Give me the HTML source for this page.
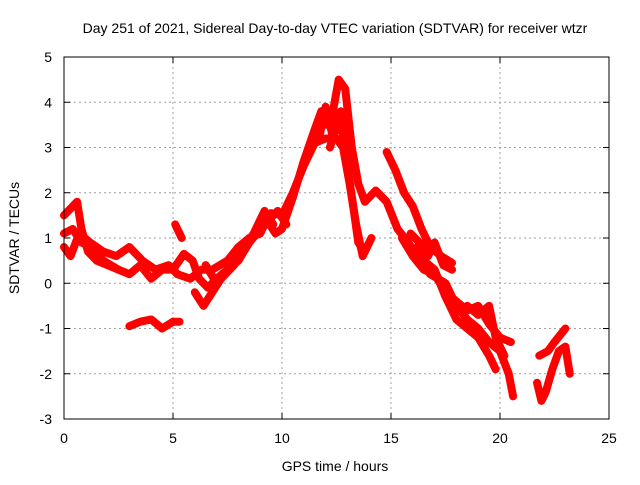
<!DOCTYPE html>
<html><head><meta charset="utf-8"><style>
body{margin:0;background:#fff;font-family:"Liberation Sans",sans-serif}
svg text{font-family:"Liberation Sans",sans-serif;font-size:14px;fill:#000}
</style></head><body>
<svg id="chart" width="640" height="480">
<text x="335" y="33" text-anchor="middle">Day 251 of 2021, Sidereal Day-to-day VTEC variation (SDTVAR) for receiver wtzr</text>
<text x="335" y="471" text-anchor="middle">GPS time / hours</text>
<text transform="translate(19,238) rotate(-90)" text-anchor="middle">SDTVAR / TECUs</text>
<g id="grid"></g><g id="ticks"></g><g id="series"></g>
<rect x="64" y="57" width="545" height="362" fill="none" stroke="#000" stroke-width="1"/>
</svg>
<script>
const xTicks=[0,5,10,15,20,25];
const yTicks=[-3,-2,-1,0,1,2,3,4,5];
const track1=[[0,1.1],[0.4,1.2],[0.8,0.9],[1.3,0.8],[1.8,0.5],[2.5,0.3],[3,0.2],[3.5,0.4],[4,0.1],[4.5,0.3],[5,0.3],[5.5,0.65],[5.9,0.5],[6.2,0.1],[6.6,-0.1],[7,0.1],[7.5,0.3],[8,0.5],[8.5,0.9],[9,1.2],[9.5,1.55],[10,1.5],[10.5,2.0],[11,2.6],[11.5,3.1],[12,3.2],[12.5,3.2],[12.8,3.0],[13.1,2.2],[13.4,1.3],[13.7,0.6],[14,0.9]];
const track2=[[0,0.8],[0.3,0.6],[0.7,1.1],[1.2,0.9],[1.8,0.7],[2.4,0.6],[3,0.8],[3.6,0.5],[4.2,0.3],[4.8,0.4],[5.2,0.2],[5.8,0.1],[6.3,0.3],[6.8,0.3],[7.5,0.5],[8,0.8],[8.5,1.0],[9,1.1],[9.3,1.4],[9.7,1.1],[10,1.2],[10.5,1.9],[11,2.7],[11.5,3.4],[11.8,3.8],[12,3.5],[12.3,3.7],[12.6,4.5],[12.9,4.3],[13.2,3.0],[13.5,2.2],[13.8,1.8],[14.3,2.05],[14.8,1.8],[15.3,1.2],[15.8,0.9],[16.3,0.5],[16.8,0.2],[17.5,0.0],[18,-0.5],[18.5,-0.8],[19,-1.0],[19.5,-1.3],[20,-1.5],[20.4,-2.0],[20.6,-2.5]];
const track3=[[0,1.5],[0.3,1.65],[0.6,1.8],[0.8,1.2],[1.1,0.7],[1.5,0.5],[2,0.4],[2.5,0.3]];
const track4=[[3,-0.95],[3.5,-0.85],[4,-0.8],[4.5,-1.0],[5,-0.85],[5.3,-0.85]];
const track5=[[5.1,1.3],[5.4,1.0]];
const track6=[[6,-0.2],[6.4,-0.5],[6.8,-0.2],[7.2,0.1],[7.8,0.4],[8.5,0.9],[9.2,1.3],[9.8,1.6],[10.2,1.3]];
const track7=[[14.8,2.9],[15.2,2.5],[15.6,2.0],[16,1.7],[16.4,1.2],[16.8,0.8],[17.3,0.6],[17.8,0.45]];
const track8=[[15.5,1.0],[16,0.6],[16.5,0.3],[17,0.2],[17.5,-0.2],[18,-0.4],[18.5,-0.6],[19,-0.5],[19.5,-0.9],[20,-1.2],[20.5,-1.3]];
const track9=[[16.2,0.8],[16.5,0.5],[17,0.3],[17.5,-0.3],[18,-0.8],[18.5,-1.0],[19,-1.2],[19.5,-1.6],[19.8,-1.9]];
const track10=[[18.5,-0.5],[19,-0.7],[19.5,-0.5],[19.8,-1.2],[20.2,-1.6]];
const track11=[[21.8,-1.6],[22.2,-1.5],[22.5,-1.3],[23,-1.0]];
const track12=[[21.7,-2.2],[21.9,-2.6],[22.1,-2.4],[22.4,-1.9],[22.7,-1.5],[23,-1.4],[23.2,-2.0]];
const track13=[[12.2,3.0],[12.5,3.5],[12.8,3.3],[13.5,0.9],[13.8,0.7],[14.1,1.0]];
const track14=[[11.7,3.2],[12.0,3.9],[12.3,3.3],[12.7,3.8],[12.9,3.2]];
const track15=[[15.9,1.1],[16.3,0.9],[16.7,0.6],[17.0,0.9],[17.4,0.4],[17.8,0.3]];
const track16=[[6.5,0.4],[7.0,0.0],[7.4,0.2],[7.8,0.6],[8.2,0.7],[8.7,1.1],[9.2,1.6],[9.6,1.3]];
const tracks=[track1,track2,track3,track4,track5,track6,track7,track8,track9,track10,track11,track12,track13,track14,track15,track16];
const NS="http://www.w3.org/2000/svg";
const X0=64,X1=609,Y0=419,Y1=57;
function xs(v){return X0+(v-0)/(25-0)*(X1-X0);}
function ys(v){return Y0-(v-(-3))/(5-(-3))*(Y0-Y1);}
const grid=document.getElementById('grid'),tk=document.getElementById('ticks'),ser=document.getElementById('series');
function mk(tag,attrs,parent){const e=document.createElementNS(NS,tag);for(const k in attrs)e.setAttribute(k,attrs[k]);parent.appendChild(e);return e;}
xTicks.forEach(v=>{const x=xs(v);
 if(v>0&&v<25){const g=mk('line',{x1:x,x2:x,y1:Y1,y2:Y0,stroke:'#a0a0a0','stroke-dasharray':'2,3'},grid);
 
 }
 const t=mk('text',{x:x,y:443,'text-anchor':'middle'},tk);t.textContent=v;
 
 
 mk('line',{x1:x,x2:x,y1:Y0,y2:Y0-6,stroke:'#000'},tk);mk('line',{x1:x,x2:x,y1:Y1,y2:Y1+6,stroke:'#000'},tk);});
yTicks.forEach(v=>{const y=ys(v);
 if(v>-3&&v<5){const g=mk('line',{x1:X0,x2:X1,y1:y,y2:y,stroke:'#a0a0a0','stroke-dasharray':'2,3'},grid);
 
 }
 const t=mk('text',{x:52,y:y+5,'text-anchor':'end'},tk);t.textContent=v;
 
 
 mk('line',{x1:X0,x2:X0+6,y1:y,y2:y,stroke:'#000'},tk);mk('line',{x1:X1,x2:X1-6,y1:y,y2:y,stroke:'#000'},tk);});
tracks.forEach(tr=>{const p=mk('polyline',{points:tr.map(d=>xs(d[0])+','+ys(d[1])).join(' '),fill:'none',stroke:'#ff0000','stroke-width':8,'stroke-linejoin':'round','stroke-linecap':'round'},ser);
 
 });
</script>
</body></html>
